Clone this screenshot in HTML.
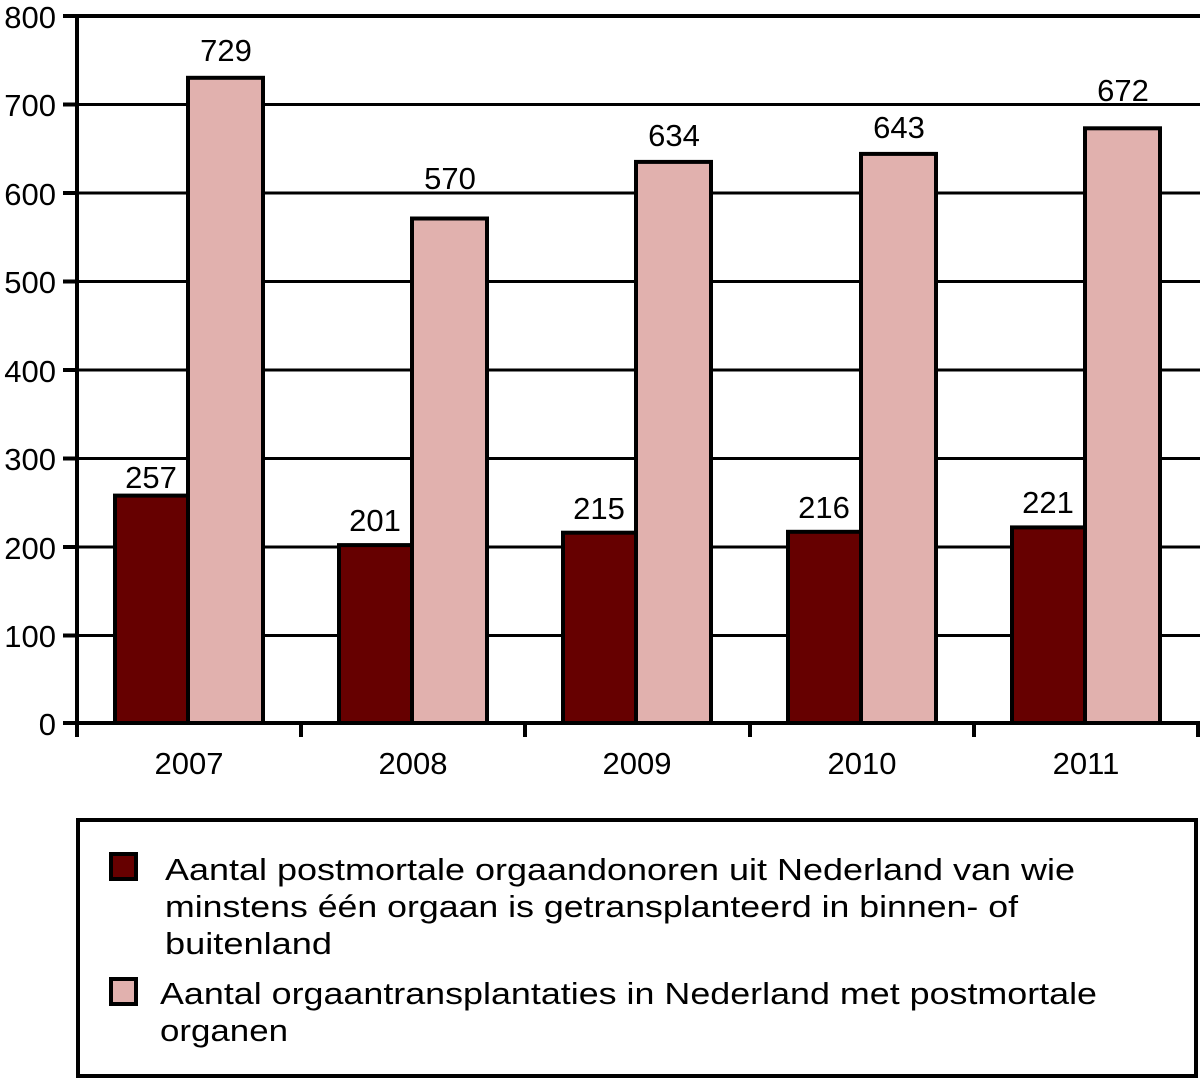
<!DOCTYPE html>
<html><head><meta charset="utf-8"><style>
html,body{margin:0;padding:0;background:#fff}
svg text{font-family:"Liberation Sans",sans-serif;fill:#000}
</style></head><body>
<svg width="1200" height="1079" viewBox="0 0 1200 1079" xmlns="http://www.w3.org/2000/svg">
<g stroke="#000" stroke-width="3">
<line x1="77" y1="635.5" x2="1200" y2="635.5"/>
<line x1="77" y1="547" x2="1200" y2="547"/>
<line x1="77" y1="458.5" x2="1200" y2="458.5"/>
<line x1="77" y1="370" x2="1200" y2="370"/>
<line x1="77" y1="281.5" x2="1200" y2="281.5"/>
<line x1="77" y1="193" x2="1200" y2="193"/>
<line x1="77" y1="104.5" x2="1200" y2="104.5"/>
</g>
<line x1="77" y1="16" x2="1200" y2="16" stroke="#000" stroke-width="4"/>
<g stroke="#000" stroke-width="4">
<rect x="115" y="495.6" width="73" height="227.4" fill="#660000"/>
<rect x="188" y="77.8" width="75" height="645.2" fill="#e1b1ae"/>
<rect x="339" y="545.1" width="73" height="177.9" fill="#660000"/>
<rect x="412" y="218.5" width="75" height="504.5" fill="#e1b1ae"/>
<rect x="563" y="532.7" width="73" height="190.3" fill="#660000"/>
<rect x="636" y="161.9" width="75" height="561.1" fill="#e1b1ae"/>
<rect x="788" y="531.8" width="73" height="191.2" fill="#660000"/>
<rect x="861" y="153.9" width="75" height="569.1" fill="#e1b1ae"/>
<rect x="1012" y="527.4" width="73" height="195.6" fill="#660000"/>
<rect x="1085" y="128.3" width="75" height="594.7" fill="#e1b1ae"/>
</g>
<g stroke="#000" stroke-width="4">
<line x1="77" y1="14" x2="77" y2="737"/>
<line x1="63" y1="723" x2="1200" y2="723"/>
<line x1="63" y1="16" x2="77" y2="16"/><line x1="63" y1="104.5" x2="77" y2="104.5"/>
<line x1="63" y1="193" x2="77" y2="193"/><line x1="63" y1="281.5" x2="77" y2="281.5"/>
<line x1="63" y1="370" x2="77" y2="370"/><line x1="63" y1="458.5" x2="77" y2="458.5"/>
<line x1="63" y1="547" x2="77" y2="547"/><line x1="63" y1="635.5" x2="77" y2="635.5"/>
<line x1="301" y1="723" x2="301" y2="737"/><line x1="525" y1="723" x2="525" y2="737"/>
<line x1="750" y1="723" x2="750" y2="737"/><line x1="974" y1="723" x2="974" y2="737"/>
<line x1="1198" y1="723" x2="1198" y2="737"/>
</g>
<g font-size="31" text-anchor="end">
<text x="56" y="28">800</text><text x="56" y="116">700</text><text x="56" y="205">600</text>
<text x="56" y="293">500</text><text x="56" y="382">400</text><text x="56" y="470">300</text>
<text x="56" y="559">200</text><text x="56" y="647">100</text><text x="56" y="735">0</text>
</g>
<g font-size="31" text-anchor="middle">
<text x="189" y="774">2007</text><text x="413" y="774">2008</text><text x="637" y="774">2009</text>
<text x="862" y="774">2010</text><text x="1086" y="774">2011</text>
<text x="151" y="488">257</text><text x="226" y="61">729</text>
<text x="375" y="531">201</text><text x="450" y="189">570</text>
<text x="599" y="519">215</text><text x="674" y="146">634</text>
<text x="824" y="518">216</text><text x="899" y="138">643</text>
<text x="1048" y="513">221</text><text x="1123" y="101">672</text>
</g>
<rect x="78" y="820" width="1118" height="256" fill="none" stroke="#000" stroke-width="4"/>
<rect x="111" y="854" width="25" height="25" fill="#660000" stroke="#000" stroke-width="4"/>
<rect x="111" y="979" width="25" height="25" fill="#e1b1ae" stroke="#000" stroke-width="4"/>
<g font-size="31">
<text x="165" y="880" textLength="910" lengthAdjust="spacingAndGlyphs">Aantal postmortale orgaandonoren uit Nederland van wie</text>
<text x="165" y="917" textLength="853" lengthAdjust="spacingAndGlyphs">minstens één orgaan is getransplanteerd in binnen- of</text>
<text x="165" y="954" textLength="167" lengthAdjust="spacingAndGlyphs">buitenland</text>
<text x="160" y="1004" textLength="937" lengthAdjust="spacingAndGlyphs">Aantal orgaantransplantaties in Nederland met postmortale</text>
<text x="160" y="1041" textLength="128" lengthAdjust="spacingAndGlyphs">organen</text>
</g>
</svg>
</body></html>
